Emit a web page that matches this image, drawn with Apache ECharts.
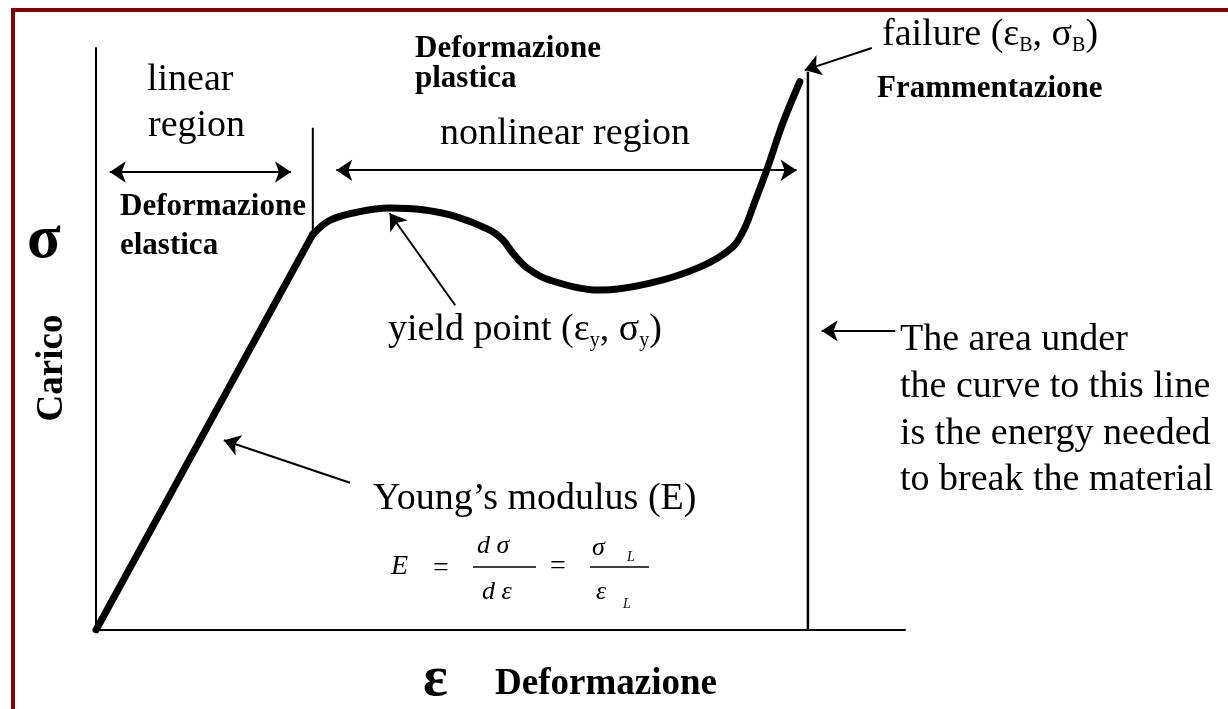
<!DOCTYPE html>
<html>
<head>
<meta charset="utf-8">
<script src="https://cdn.jsdelivr.net/npm/echarts@6/dist/echarts.min.js"></script>
<style>
  html, body { margin: 0; padding: 0; background: #fff; }
  #main { width: 1228px; height: 709px; }
</style>
</head>
<body>
<div id="main"></div>
<script>
// strain / stress in 0..100 units
var elasticStrain = [0, 26.8];
var elasticStress = [0, 68.0];
var plasticStrain = [26.8, 28.9, 32.3, 36.3, 40.4, 44.6, 48.7, 50.3, 51.5, 53.3, 56.1, 62.3, 68.5, 74.7, 78.7, 80.2, 81.2, 82.9, 84.9, 87.0];
var plasticStress = [68.0, 70.4, 71.8, 72.5, 72.2, 71.0, 68.7, 67.0, 64.8, 62.2, 60.1, 58.4, 59.6, 62.4, 65.8, 69.1, 72.7, 79.0, 87.1, 94.2];
var failureLineX = [88.0, 88.0];
var failureLineY = [0, 95.9];
var yieldLineX = [26.8, 26.8];
var yieldLineY = [68.0, 86.3];
// arrows: [fromX, fromY, toX, toY]
var doubleArrows = [[1.7, 78.7, 24.1, 78.7], [29.7, 79.0, 86.6, 79.0]];
var pointerArrows = [
  [44.4, 55.8, 36.3, 71.6],   // yield point
  [31.4, 25.3, 15.8, 32.6],   // Young's modulus
  [95.9, 100, 87.6, 96.2],    // failure
  [98.8, 51.4, 89.7, 51.4]    // area under the curve
];

function pairs(xs, ys) {
  var out = [];
  for (let i = 0; i < xs.length; i++) out.push([xs[i], ys[i]]);
  return out;
}

var serif = '"Liberation Serif", "Times New Roman", serif';

function txt(text, x, base, size, weight, extra) {
  var el = {
    type: 'text', x: x, y: base - 0.34 * size, z: 10,
    style: {
      text: text, fill: '#000', align: 'left', verticalAlign: 'middle',
      font: (weight || 'normal') + ' ' + size + 'px ' + serif
    }
  };
  if (extra) Object.assign(el.style, extra);
  return el;
}

function richTxt(text, x, base, size, subSize) {
  return {
    type: 'text', x: x, y: base - 0.34 * size - 4, z: 10,
    style: {
      text: text, fill: '#000', align: 'left', verticalAlign: 'middle',
      rich: {
        m: { fontSize: size, fontFamily: serif, lineHeight: size + 4, fill: '#000' },
        s: { fontSize: subSize, fontFamily: serif, lineHeight: subSize, verticalAlign: 'bottom', fill: '#000' }
      }
    }
  };
}

function bar(x1, x2, y) {
  return { type: 'line', z: 10, shape: { x1: x1, y1: y, x2: x2, y2: y }, style: { stroke: '#000', lineWidth: 1.6 } };
}

var arrowLines = [];
doubleArrows.forEach(function (a) {
  arrowLines.push([{ coord: [a[0], a[1]], symbol: 'arrow' }, { coord: [a[2], a[3]], symbol: 'arrow' }]);
});
pointerArrows.forEach(function (a) {
  arrowLines.push([{ coord: [a[0], a[1]], symbol: 'none' }, { coord: [a[2], a[3]], symbol: 'arrow' }]);
});

var myChart = echarts.init(document.getElementById('main'));

var option = {
  animation: false,
  backgroundColor: '#fff',
  grid: { left: 96, right: 323, top: 48, bottom: 79 },
  xAxis: {
    type: 'value', min: 0, max: 100,
    axisLine: { show: true, lineStyle: { color: '#000', width: 2 } },
    axisTick: { show: false }, axisLabel: { show: false }, splitLine: { show: false }
  },
  yAxis: {
    type: 'value', min: 0, max: 100,
    axisLine: { show: true, lineStyle: { color: '#000', width: 2 } },
    axisTick: { show: false }, axisLabel: { show: false }, splitLine: { show: false }
  },
  series: [
    {
      name: 'elastica', type: 'line', symbol: 'none',
      lineStyle: { color: '#000', width: 7, cap: 'round', join: 'round' },
      data: pairs(elasticStrain, elasticStress)
    },
    {
      name: 'plastica', type: 'line', symbol: 'none', smooth: 0.35,
      lineStyle: { color: '#000', width: 7, cap: 'round', join: 'round' },
      data: pairs(plasticStrain, plasticStress)
    },
    {
      name: 'snervamento', type: 'line', symbol: 'none',
      lineStyle: { color: '#000', width: 2 },
      data: pairs(yieldLineX, yieldLineY)
    },
    {
      name: 'rottura', type: 'line', symbol: 'none',
      lineStyle: { color: '#000', width: 2.5 },
      data: pairs(failureLineX, failureLineY),
      markLine: {
        silent: true, animation: false,
        symbolSize: 16,
        label: { show: false },
        lineStyle: { color: '#000', width: 2, type: 'solid' },
        data: arrowLines
      }
    }
  ],
  graphic: [
    // frame
    { type: 'polyline', z: 20, shape: { points: [[13, 709], [13, 10], [1228, 10]] }, style: { stroke: '#850000', lineWidth: 4, fill: null } },
    // axis symbols and names
    txt('σ', 27, 262, 62, 'bold'),
    { type: 'text', x: 52, y: 368, rotation: Math.PI / 2, z: 10,
      style: { text: 'Carico', fill: '#000', align: 'center', verticalAlign: 'middle', font: 'bold 37px ' + serif } },
    txt('ε', 423, 700, 58, 'bold'),
    txt('Deformazione', 495, 697, 37, 'bold'),
    // region labels
    txt('linear', 147, 93, 38),
    txt('region', 148, 139, 38),
    txt('nonlinear region', 440, 147, 38),
    txt('Deformazione', 120, 218, 31, 'bold'),
    txt('elastica', 120, 257, 31, 'bold'),
    txt('Deformazione', 415, 60, 31, 'bold'),
    txt('plastica', 415, 90, 31, 'bold'),
    txt('Frammentazione', 877, 100, 31, 'bold'),
    richTxt('{m|failure (ε}{s|B}{m|, σ}{s|B}{m|)}', 882, 52, 38, 20),
    richTxt('{m|yield point (ε}{s|y}{m|, σ}{s|y}{m|)}', 388, 347, 38, 20),
    txt('Young\u2019s modulus (E)', 373, 512, 38),
    // area note
    txt('The area under', 900, 353, 38),
    txt('the curve to this line', 900, 400, 38),
    txt('is the energy needed', 900, 447, 38),
    txt('to break the material', 900, 493, 38),
    // formula
    txt('E', 391, 576, 28, 'italic'),
    txt('=', 433, 578, 28),
    txt('d σ', 477, 555, 26, 'italic'),
    bar(473, 536, 567),
    txt('d ε', 482, 601, 26, 'italic'),
    txt('=', 550, 576, 28),
    txt('σ', 592, 557, 26, 'italic'),
    txt('L', 627, 562, 14, 'italic'),
    bar(590, 649, 567),
    txt('ε', 596, 601, 26, 'italic'),
    txt('L', 623, 609, 14, 'italic')
  ]
};

option && myChart.setOption(option);
window.onresize = myChart.resize;
</script>
</body>
</html>
